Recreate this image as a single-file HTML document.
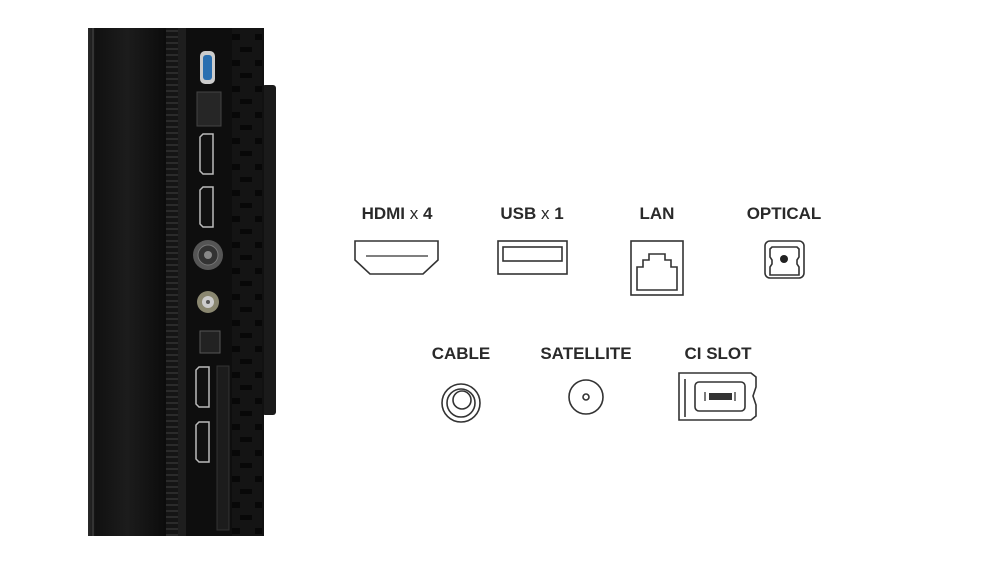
<!DOCTYPE html>
<html><head><style>
html,body{margin:0;padding:0;background:#fff;}
svg{display:block;}
text{font-family:"Liberation Sans",sans-serif;font-weight:bold;font-size:17px;fill:#2a2a2a;text-anchor:middle;}
</style></head><body>
<svg width="1000" height="563" viewBox="0 0 1000 563" xmlns="http://www.w3.org/2000/svg">
<defs>
<linearGradient id="g1" x1="0" x2="1">
<stop offset="0" stop-color="#2a2a2a"/><stop offset="0.1" stop-color="#111"/><stop offset="0.5" stop-color="#1c1c1c"/><stop offset="1" stop-color="#0c0c0c"/>
</linearGradient>
<pattern id="rib" width="8" height="6" patternUnits="userSpaceOnUse">
<rect width="8" height="6" fill="#151515"/><rect y="0" width="8" height="2" fill="#2b2b2b"/>
</pattern>
<pattern id="blk" width="30" height="26" patternUnits="userSpaceOnUse">
<rect width="30" height="26" fill="#141414"/><rect x="15" y="8" width="15" height="6" fill="#080808"/><rect x="0" y="21" width="12" height="5" fill="#080808"/>
</pattern>
</defs>
<!-- TV side -->
<rect x="262" y="85" width="14" height="330" rx="3" fill="#1a1a1a"/>
<rect x="88" y="28" width="176" height="508" fill="#111"/>
<rect x="88" y="28" width="78" height="508" fill="url(#g1)"/>
<rect x="92" y="28" width="2" height="508" fill="#333"/>
<rect x="166" y="28" width="12" height="508" fill="url(#rib)"/>
<rect x="178" y="28" width="8" height="508" fill="#1e1e1e"/>
<rect x="186" y="28" width="46" height="508" fill="#0e0e0e"/>
<rect x="232" y="28" width="30" height="508" fill="url(#blk)"/>
<!-- ports -->
<rect x="200" y="51" width="15" height="33" rx="5" fill="#ccc"/>
<rect x="203" y="55" width="9" height="25" rx="3" fill="#2a6fb0"/>
<rect x="197" y="92" width="24" height="34" fill="#262626" stroke="#444"/>
<path d="M203 134 h10 v40 h-10 l-3 -3 v-34 z" fill="#111" stroke="#bbb" stroke-width="1.5"/>
<path d="M203 187 h10 v40 h-10 l-3 -3 v-34 z" fill="#111" stroke="#bbb" stroke-width="1.5"/>
<circle cx="208" cy="255" r="15" fill="#555"/><circle cx="208" cy="255" r="10" fill="#333" stroke="#777"/><circle cx="208" cy="255" r="4" fill="#888"/>
<circle cx="208" cy="302" r="11" fill="#8a8770"/><circle cx="208" cy="302" r="6" fill="#ccc"/><circle cx="208" cy="302" r="2" fill="#555"/>
<rect x="200" y="331" width="20" height="22" fill="#222" stroke="#555"/>
<path d="M199 367 h10 v40 h-10 l-3 -3 v-34 z" fill="#111" stroke="#bbb" stroke-width="1.5"/>
<path d="M199 422 h10 v40 h-10 l-3 -3 v-34 z" fill="#111" stroke="#bbb" stroke-width="1.5"/>
<rect x="217" y="366" width="12" height="164" fill="#1c1c1c" stroke="#333"/>
<!-- labels -->
<text x="397" y="219">HDMI <tspan font-weight="normal">x</tspan> 4</text>
<text x="532" y="219">USB <tspan font-weight="normal">x</tspan> 1</text>
<text x="657" y="219">LAN</text>
<text x="784" y="219">OPTICAL</text>
<text x="461" y="359">CABLE</text>
<text x="586" y="359">SATELLITE</text>
<text x="718" y="359">CI SLOT</text>
<g fill="none" stroke="#333" stroke-width="1.6">
<path d="M355 241 h83 v19 l-15 14 h-53 l-15 -14 z"/>
<path d="M366 256 h62" stroke-width="1.2"/>
<rect x="498" y="241" width="69" height="33"/>
<rect x="503" y="247" width="59" height="14"/>
<rect x="631" y="241" width="52" height="54"/>
<path d="M637 290 v-23 h6 v-7 h6 v-6 h16 v6 h6 v7 h6 v23 z"/>
<rect x="765" y="241" width="39" height="37" rx="5"/>
<path d="M772 247 h25 l2 2 v8 l-2 3 v4 l2 3 v8 h-29 v-8 l2 -3 v-4 l-2 -3 v-8 z"/>
<circle cx="461" cy="403" r="19"/><circle cx="461" cy="403" r="14"/><circle cx="462" cy="400" r="9"/>
<circle cx="586" cy="397" r="17"/><circle cx="586" cy="397" r="3"/>
<path d="M679 373 h72 l5 4 v10 l-3 9 l3 9 v11 l-5 4 h-72 z"/>
<path d="M685 379 v38"/>
<rect x="695" y="382" width="50" height="29" rx="4"/>
</g>
<path d="M705 392 v9 M735 392 v9" stroke="#333" stroke-width="1.3"/>
<rect x="709" y="393" width="23" height="7" fill="#333"/>
<circle cx="784" cy="259" r="4" fill="#222"/>
</svg>
</body></html>
